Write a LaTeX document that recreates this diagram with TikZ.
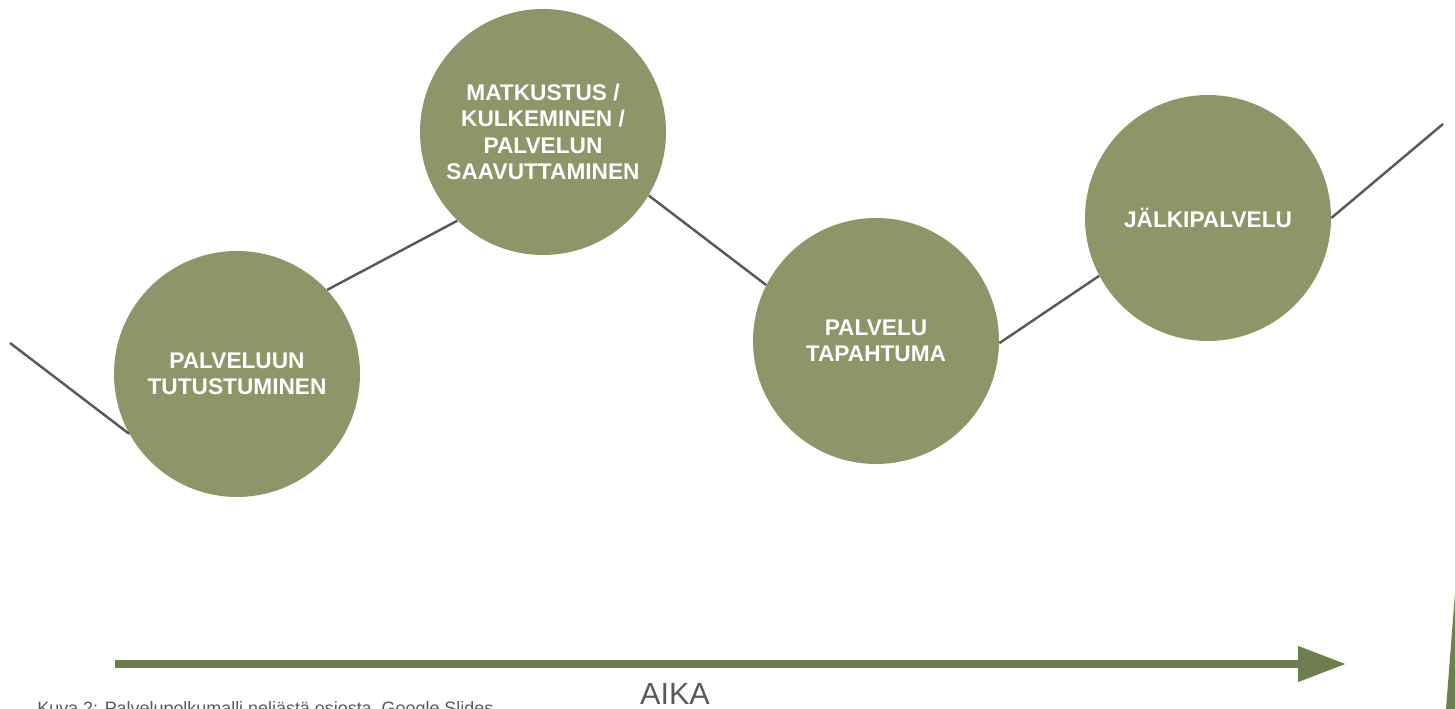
\documentclass[tikz,border=0pt]{standalone}
\usepackage{fontspec}
\setmainfont{Liberation Sans}
\usepackage{tikz}
\usetikzlibrary{arrows.meta}

\definecolor{vaihevihrea}{HTML}{8C9669}
\definecolor{aikavihrea}{HTML}{6F7E50}
\definecolor{viivaharmaa}{HTML}{595959}

\tikzset{
	vaihe/.style={circle, fill=vaihevihrea, minimum size=4.92cm, inner sep=0pt,
		text=white, align=center, font=\fontsize{12.9}{15.1}\selectfont\bfseries},
	polku/.style={draw=viivaharmaa, line width=1.4pt},
	aikanuoli/.style={draw=aikavihrea, line width=4.25pt,
		-{Triangle[length=0.96cm, width=0.68cm]}}
}

\begin{document}
\begin{tikzpicture}
		\useasboundingbox (0,0) rectangle (29.1,14.18);

		% palvelupolun vaiheet
		\node [vaihe] (tutustuminen) at (4.74,6.70) {PALVELUUN\\TUTUSTUMINEN};
		\node [vaihe] (matkustus) at (10.86,11.54) {MATKUSTUS /\\KULKEMINEN /\\PALVELUN\\SAAVUTTAMINEN};
		\node [vaihe] (tapahtuma) at (17.52,7.36) {PALVELU\\TAPAHTUMA};
		\node [vaihe] (jalki) at (24.16,9.82) {JÄLKIPALVELU};

		\coordinate (alku) at (0.2,7.32);
		\coordinate (loppu) at (28.86,11.70);

		\draw [polku] (alku) -- (tutustuminen.209);
		\draw [polku] (tutustuminen.43) -- (matkustus.-134);
		\draw [polku] (matkustus.-31) -- (tapahtuma.153);
		\draw [polku] (tapahtuma.-1) -- (jalki.208);
		\draw [polku] (jalki.0) -- (loppu);

		% aika-akseli
		\coordinate (aikaalku) at (2.3,0.90);
		\coordinate (aikaloppu) at (26.92,0.90);
		\draw [aikanuoli] (aikaalku) -- (aikaloppu);
		\node [text=viivaharmaa, font=\fontsize{17.4}{20}\selectfont] (aika) at (13.5,0.30) {AIKA};

		\fill [aikavihrea] (29.1,2.32) -- (29.1,0) -- (28.92,0) -- cycle;

		%\draw (1,-0.2) node {otsikko};
		\node [anchor=base west, text=viivaharmaa, font=\fontsize{10.2}{12}\selectfont, inner sep=0pt] (kuvateksti) at (0.74,-0.12) {Kuva 2: Palvelupolkumalli neljästä osiosta, Google Slides};

\end{tikzpicture}
\end{document}
